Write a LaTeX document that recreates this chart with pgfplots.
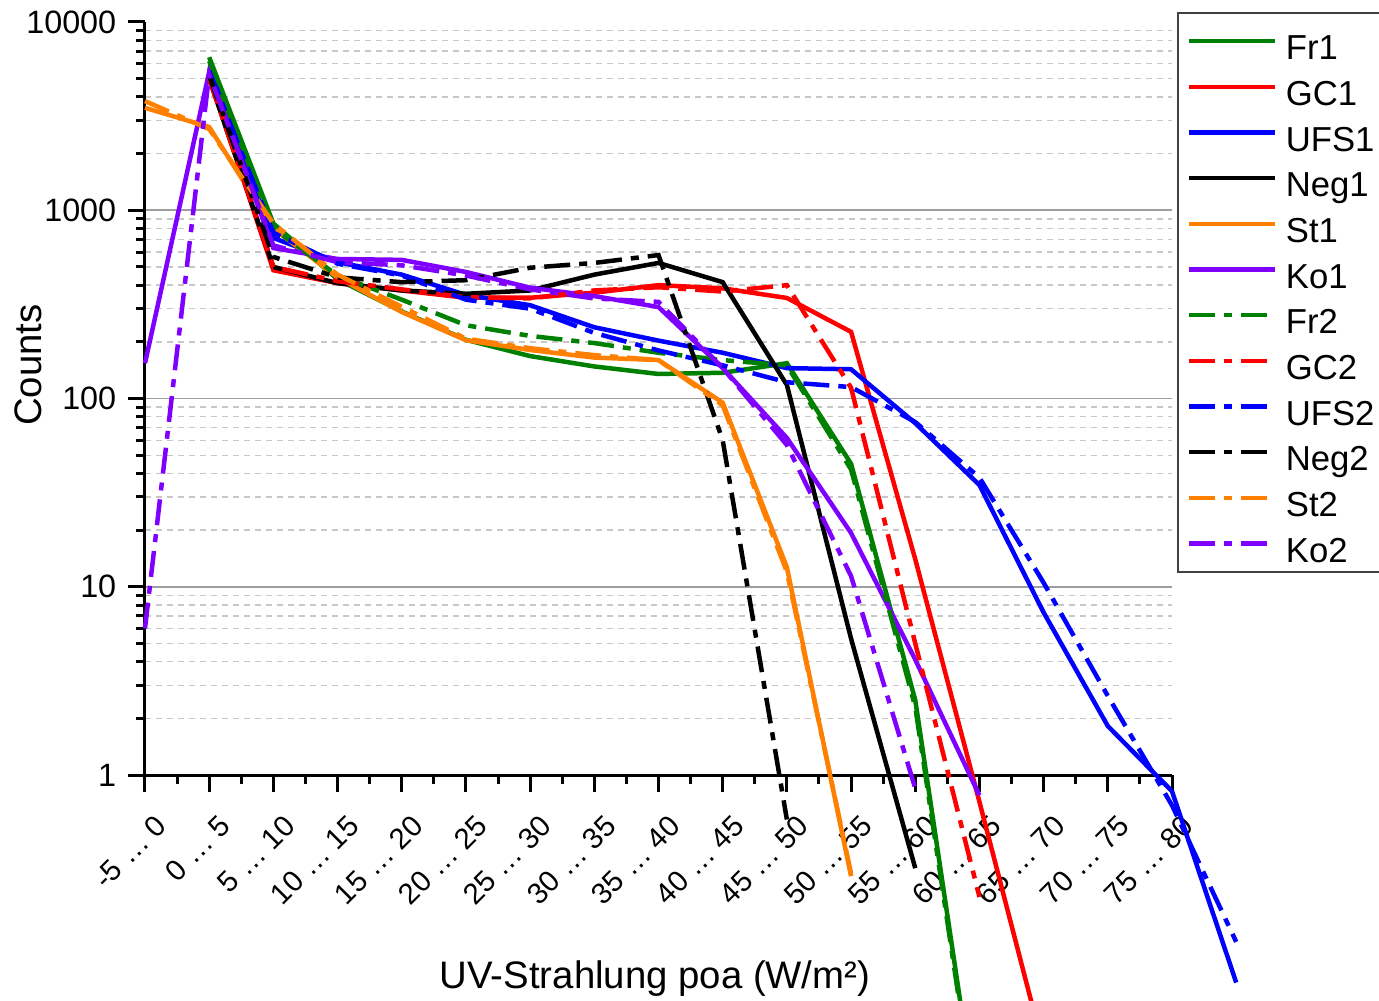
\documentclass[border=0pt]{standalone}
\usepackage{fontspec}
\setmainfont{Liberation Sans}
\usepackage{pgfplots}
\pgfplotsset{compat=1.18}
\definecolor{cgreen}{RGB}{0,128,0}
\definecolor{cred}{RGB}{255,0,0}
\definecolor{cblue}{RGB}{0,0,255}
\definecolor{corange}{RGB}{255,128,0}
\definecolor{cpurple}{RGB}{128,0,255}
\tikzset{
  sol/.style={line width=1.35pt},
  dd/.style={line width=1.35pt, dash pattern=on 7.8pt off 2.7pt on 2.4pt off 2.7pt},
}
\begin{document}
\begin{tikzpicture}
\begin{axis}[
  scale only axis, width=308.1pt, height=225.9pt,
  xmin=0, xmax=16, ymin=1, ymax=10000, ymode=log,
  clip=false,
  axis lines*=left,
  axis line style={line width=0.9pt, -},
  tick align=outside,
  major tick length=5.1pt, minor tick length=2.7pt,
  tick style={black, line width=0.9pt},
  xtick={0,...,16},
  xticklabels={-5 … 0,0 … 5,5 … 10,10 … 15,15 … 20,20 … 25,25 … 30,30 … 35,35 … 40,40 … 45,45 … 50,50 … 55,55 … 60,60 … 65,65 … 70,70 … 75,75 … 80},
  minor x tick num=1,
  ytick={1,10,100,1000},
  yticklabels={1,10,100,1000},
  minor ytick={2,3,4,5,6,7,8,9,20,30,40,50,60,70,80,90,200,300,400,500,600,700,800,900,2000,3000,4000,5000,6000,7000,8000,9000},
  extra y ticks={10000},
  extra y tick labels={10000},
  extra y tick style={grid=none},
  ymajorgrids, yminorgrids,
  major grid style={black!38, line width=0.5pt},
  minor grid style={black!22, line width=0.4pt, dash pattern=on 1.8pt off 1.5pt},
  /pgf/number format/assume math mode=true,
  yticklabel style={font=\fontsize{9.7}{11}\selectfont},
  xticklabel style={font=\fontsize{8.8}{10}\selectfont, inner sep=0pt, xshift=5pt, yshift=-8.5pt, rotate=45, anchor=east},
  every axis y label/.style={at={(axis description cs:-0.1003,0.5445)}, rotate=90, anchor=base},
  every axis x label/.style={at={(axis description cs:0.4966,-0.283)}, anchor=base},
  label style={font=\fontsize{11.5}{13}\selectfont},
  xlabel={UV-Strahlung poa (W/m²)},
  ylabel={Counts},
  legend style={at={(1.0049,1.0133)}, anchor=north west, draw=black!75, line width=0.6pt,
    font=\fontsize{10.4}{12}\selectfont, inner xsep=2.5pt, inner ysep=1.6pt,
    row sep=0pt, column sep=2.5pt,
    nodes={inner sep=0pt, text height=12.5pt, text depth=1.2pt}},
  legend cell align=left,
  legend image code/.code={\draw[#1] (0pt,0pt) -- (26pt,0pt);},
]
\addplot[cgreen, sol] coordinates {(1,6500) (2,850) (3,430) (4,290) (5,205) (6,168) (7,148) (8,135) (9,137) (10,154) (11,45) (12,2.5) (13,0.013)};
\addlegendentry{Fr1}
\addplot[cred, sol] coordinates {(1,5100) (2,480) (3,410) (4,375) (5,343) (6,343) (7,365) (8,400) (9,385) (10,342) (11,226) (12,14) (13,0.72) (14,0.035)};
\addlegendentry{GC1}
\addplot[cblue, sol] coordinates {(1,5650) (2,713) (3,530) (4,455) (5,355) (6,313) (7,239) (8,203) (9,175) (10,145) (11,143) (12,74) (13,34.7) (14,7.3) (15,1.82) (16,0.82) (17,0.079)};
\addlegendentry{UFS1}
\addplot[black, sol] coordinates {(1,5000) (2,500) (3,410) (4,375) (5,360) (6,375) (7,455) (8,525) (9,415) (10,118) (11,5.3) (12,0.32)};
\addlegendentry{Neg1}
\addplot[corange, sol] coordinates {(0,3500) (1,2770) (2,800) (3,440) (4,288) (5,204) (6,181) (7,165) (8,160) (9,95) (10,12.7) (11,0.29)};
\addlegendentry{St1}
\addplot[cpurple, sol] coordinates {(0,154) (1,5420) (2,630) (3,551) (4,545) (5,470) (6,388) (7,350) (8,306) (9,145) (10,61.7) (11,19.3) (12,4.1) (13,0.78)};
\addlegendentry{Ko1}
\addplot[cgreen, dd] coordinates {(1,6200) (2,800) (3,450) (4,335) (5,245) (6,215) (7,197) (8,175) (9,160) (10,150) (11,42) (12,2.3) (13,0.012)};
\addlegendentry{Fr2}
\addplot[cred, dd] coordinates {(1,5000) (2,500) (3,420) (4,380) (5,345) (6,340) (7,375) (8,390) (9,370) (10,400) (11,114) (12,5.0) (13,0.225)};
\addlegendentry{GC2}
\addplot[cblue, dd] coordinates {(1,5500) (2,760) (3,520) (4,450) (5,335) (6,300) (7,223) (8,180) (9,150) (10,122) (11,115) (12,75) (13,38) (14,10.5) (15,2.63) (16,0.69) (17,0.13)};
\addlegendentry{UFS2}
\addplot[black, dd] coordinates {(1,5200) (2,565) (3,440) (4,415) (5,425) (6,495) (7,525) (8,578) (9,60) (10,0.58)};
\addlegendentry{Neg2}
\addplot[corange, dd] coordinates {(0,3800) (1,2700) (2,850) (3,455) (4,307) (5,208) (6,185) (7,170) (8,160) (9,92) (10,12) (11,0.3)};
\addlegendentry{St2}
\addplot[cpurple, dd] coordinates {(0,6) (1,5300) (2,650) (3,530) (4,510) (5,450) (6,380) (7,340) (8,326) (9,145) (10,56.6) (11,11.4) (12,0.85)};
\addlegendentry{Ko2}
\end{axis}
\pgfresetboundingbox
\useasboundingbox ([shift={(-43.5pt,-67.5pt)}]current axis.south west) rectangle ([shift={(370.2pt,232.5pt)}]current axis.south west);
\end{tikzpicture}
\end{document}
